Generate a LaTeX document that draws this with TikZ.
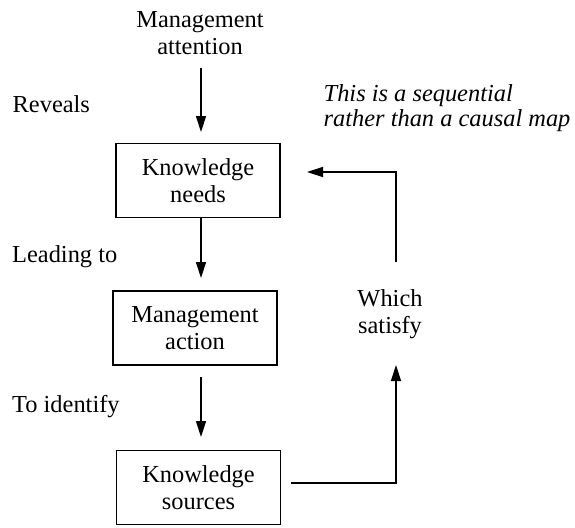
\documentclass[tikz,border=0pt]{standalone}
\usepackage{fontspec}
\setmainfont{Liberation Serif}
\usetikzlibrary{arrows.meta}
\begin{document}
\begin{tikzpicture}[x=1pt,y=-1pt,
  every node/.style={font=\fontsize{24.4}{27}\selectfont, align=center, inner sep=0pt},
  stage/.style={draw, line width=1.4pt, minimum width=164pt, minimum height=74pt},
  flow/.style={line width=1.4pt, -{Triangle[length=16pt,width=10pt]}}]
\useasboundingbox (0,0) rectangle (575,527);
% stages of the sequence
\node[stage] (needs) at (198,180.5) {Knowledge\\needs};
\node[stage] (action) at (195,328) {Management\\action};
\node[stage] (sources) at (198.5,487.5) {Knowledge\\sources};
% multi-line labels are placed by the baseline of their last line
\node[anchor=base] (attention) at (200,55) {Management\\attention};
% labels beside the connectors
\node[anchor=base west] (reveals) at (12.5,112) {Reveals};
\node[anchor=base west] (leading) at (12,262) {Leading to};
\node[anchor=base west] (identify) at (12,412) {To identify};
\node[anchor=base] (satisfy) at (390,333) {Which\\satisfy};
\node[anchor=base west, align=left, font=\fontsize{24.4}{25}\selectfont\itshape] (note) at (323.5,126) {This is a sequential\\rather than a causal map};
% connectors down the sequence
\coordinate (a1) at (201,68);
\coordinate (b1) at (201,132);
\coordinate (b2) at (201,278);
\coordinate (a3) at (201,377);
\coordinate (b3) at (201,437);
\draw[flow] (a1) -- (b1);
\draw[flow] (b2 |- needs.south) -- (b2);
\draw[flow] (a3) -- (b3);
% feedback loop
\coordinate (f0) at (291,483);
\coordinate (f1) at (396,365);
\coordinate (f2) at (396,262);
\coordinate (f3) at (307,172);
\draw[flow] (f0) -| (f1);
\draw[flow] (f2) |- (f3);
\end{tikzpicture}
\end{document}
